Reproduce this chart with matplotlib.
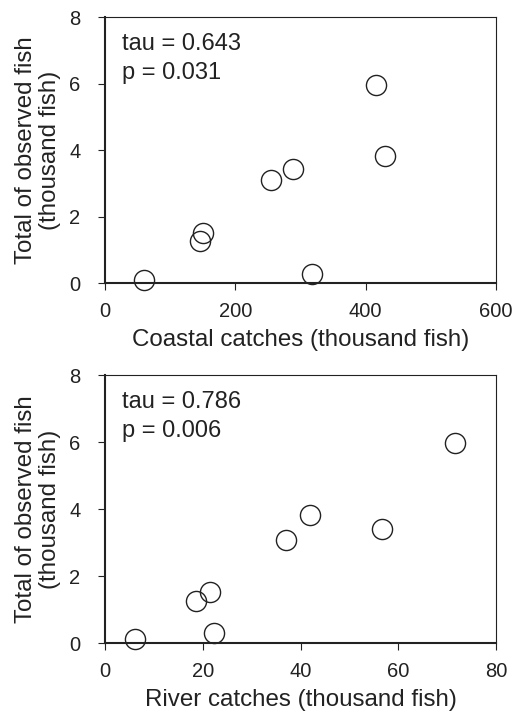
import numpy as np
import matplotlib.pyplot as plt

plt.rcParams['font.family'] = ['Liberation Sans', 'DejaVu Sans']

observed = [0.10, 1.25, 1.51, 3.09, 3.43, 0.28, 5.97, 3.83]
coastal = [60, 146, 151, 254, 288, 318, 415, 430]
river = [6.2, 18.7, 21.4, 37.1, 41.9, 22.3, 71.5, 56.7]
# river values follow the same order as observed above
river_obs = [0.12, 1.26, 1.52, 3.08, 3.83, 0.29, 5.97, 3.42]

panels = [
    (coastal, observed, "Coastal catches (thousand fish)", [0, 200, 400, 600], "tau = 0.643\np = 0.031"),
    (river, river_obs, "River catches (thousand fish)", [0, 20, 40, 60, 80], "tau = 0.786\np = 0.006"),
]

fig = plt.figure(figsize=(5.12, 7.14), dpi=100)
positions = [[0.205, 0.6036, 0.764, 0.3725], [0.205, 0.0994, 0.764, 0.375]]
edge = '#222222'

for pos, (xs, ys, xlabel, xticks, note) in zip(positions, panels):
    ax = fig.add_axes(pos)
    ax.plot(xs, ys, 'o', ms=14.5, mfc='none', mec=edge, mew=1.0, clip_on=False)
    ax.set_xlim(xticks[0], xticks[-1])
    ax.set_ylim(0, 8)
    ax.set_xticks(xticks)
    ax.set_yticks([0, 2, 4, 6, 8])
    ax.tick_params(direction='out', length=4.7, width=0.8, colors=edge, labelsize=14.5)
    ax.tick_params(axis='x', pad=9)
    ax.tick_params(axis='y', pad=13)
    for name, s in ax.spines.items():
        s.set_color(edge)
        s.set_linewidth(1.5 if name in ('left', 'bottom') else 0.8)
    ax.set_xlabel(xlabel, fontsize=17.4, color=edge, labelpad=6)
    ax.set_ylabel("Total of observed fish\n(thousand fish)", fontsize=17.4, color=edge,
                  labelpad=6, linespacing=1.1)
    ax.text(0.043, 0.94, note, transform=ax.transAxes, va='top', ha='left',
            fontsize=17, color=edge, linespacing=1.4)

fig.savefig('out.png', dpi=100)
